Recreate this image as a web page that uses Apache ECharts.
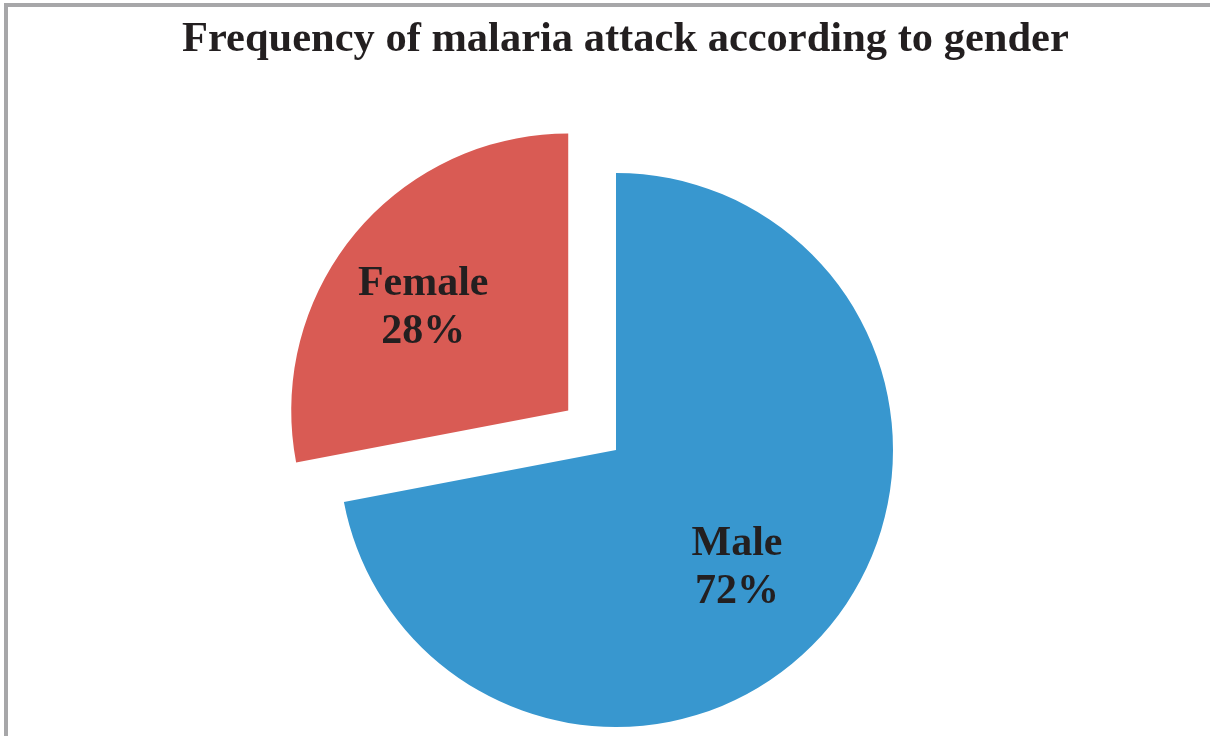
<!DOCTYPE html>
<html>
<head>
<meta charset="utf-8">
<title>Frequency of malaria attack according to gender</title>
<script src="https://cdn.jsdelivr.net/npm/echarts@6/dist/echarts.min.js"></script>
<style>
  html, body { margin: 0; padding: 0; background: #ffffff; overflow: hidden; }
  #chart { position: absolute; left: 0; top: 0; width: 1210px; height: 736px; }
  #frame {
    position: absolute; left: 4px; top: 3px; width: 1220px; height: 760px;
    border-left: 4px solid #a7a7a9; border-top: 4px solid #a7a7a9;
    pointer-events: none;
  }
</style>
</head>
<body>
<div id="chart"></div>
<div id="frame"></div>
<script>
// Share of malaria attacks by gender (percent)
const categories = ['Male', 'Female'];
const shares = [72, 28];
const sliceColors = ['#3897cf', '#d95b54'];
const titleText = 'Frequency of malaria attack according to gender';

const chart = echarts.init(document.getElementById('chart'), null, { renderer: 'canvas' });

// Nudge the inside labels toward the outer part of each slice
const labelShift = [
  { dx: 12, dy: 28 },
  { dx: -36, dy: -12 }
];

chart.setOption({
  animation: false,
  backgroundColor: 'transparent',
  title: {
    text: titleText,
    left: 177,
    top: 14,
    textStyle: {
      fontFamily: '"Liberation Serif", "Times New Roman", serif',
      fontWeight: 'bold',
      fontSize: 42.5,
      color: '#231f20'
    }
  },
  series: [{
    type: 'pie',
    center: [616, 450],
    radius: 277,
    startAngle: 90,
    clockwise: true,
    selectedMode: 'single',
    selectedOffset: 62,
    avoidLabelOverlap: false,
    emphasis: { disabled: true },
    label: {
      show: true,
      position: 'inside',
      formatter: function (p) { return p.name + '\n' + p.value + '%'; },
      fontFamily: '"Liberation Serif", "Times New Roman", serif',
      fontWeight: 'bold',
      fontSize: 42,
      lineHeight: 48,
      color: '#231f20'
    },
    labelLine: { show: false },
    labelLayout: function (params) {
      return labelShift[params.dataIndex];
    },
    data: categories.map(function (name, i) {
      return {
        name: name,
        value: shares[i],
        selected: name === 'Female',
        itemStyle: { color: sliceColors[i] }
      };
    })
  }]
});
</script>
</body>
</html>
